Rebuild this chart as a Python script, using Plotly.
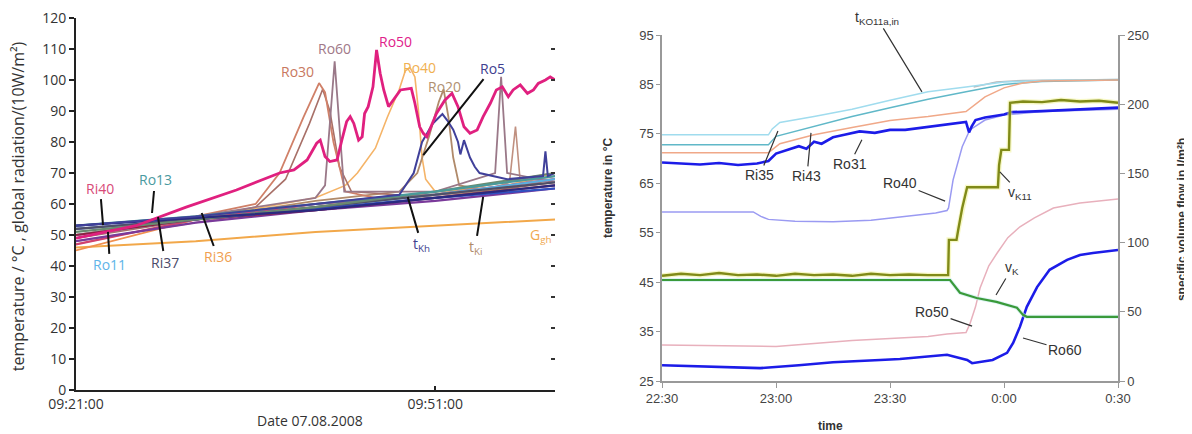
import plotly.graph_objects as go

# ---------------- LEFT PANEL DATA (minutes after 09:21:00) ----------------
left_tickvals = [0, 30]
left_ticktext = ["09:21:00", "09:51:00"]
left_yticks = list(range(0, 121, 10))

bundle_t = [0, 10, 20, 30, 40]
ro13_v = [53, 56, 60, 64, 69]
ro11_v = [50, 55, 59, 63, 68]
navy_v = [53, 55.5, 58, 62, 66]
purple_v = [48, 54, 58, 61, 65]
ri37_v = [52, 55, 59, 63, 67]
darkred_v = [50, 55, 58, 62, 66]
blue_v = [52, 55, 58.5, 62, 65]
ri40_v = [47, 55, 60, 63, 68]
green_v = [51, 55, 59, 64, 70]

ri36_t = [0, 5, 10, 20, 30, 40]
ri36_v = [45, 50, 55, 59, 63, 70]

ggh_t = [0, 10, 20, 30, 40]
ggh_v = [46, 48, 51, 53, 55]

ro30_t = [0, 10, 15, 17, 19, 20.3, 20.8, 21.5, 22.5, 25, 30, 40]
ro30_v = [50, 56, 60, 70, 88, 99, 96, 80, 64, 62, 63, 68]
ro30b_t = [0, 10, 15, 17.5, 19.5, 20.6, 21.2, 22, 23, 30, 40]
ro30b_v = [49, 55, 59, 68, 86, 97, 90, 72, 64, 62, 67]

ro60_t = [0, 10, 20, 20.8, 21.6, 22.4, 30, 35, 35.5, 36, 40]
ro60_v = [49, 56, 62, 66, 106, 64, 64, 70, 101, 70, 67]

ro50_t = [0, 5, 9.2, 13.4, 17.0, 18.2, 19.3, 20.1, 20.4, 20.8, 21.2, 21.8, 22.2, 22.6, 22.9,
          23.2, 23.6, 23.9, 24.1, 24.4, 24.8, 25.1, 25.4, 25.7, 26.1, 26.5, 27.1, 28.0, 28.3,
          28.7, 29.0, 29.3, 30.1, 30.8, 31.4, 31.9, 32.4, 32.9, 33.5, 34.0, 34.6, 35.1, 35.6,
          36.1, 36.5, 37.1, 37.7, 38.2, 38.6, 39.2, 39.6, 40.0]
ro50_v = [49, 53, 59, 64.5, 70, 71, 74.2, 79.6, 80.6, 75.3, 73.7, 74.2, 80.6, 86.6, 88.2,
          86, 80.6, 81.7, 89.2, 91.4, 97.8, 109.7, 102.2, 96.8, 91.4, 93.5, 96.8, 97.3, 92.5,
          84.9, 82.8, 81.7, 89.2, 93.5, 95.7, 91.4, 84.9, 82.8, 83.9, 88.2, 92.5, 96.8, 97.8,
          94.6, 96.8, 98.4, 95.7, 96.8, 98.9, 100, 101, 100]

ro40_t = [0, 10, 20, 22.5, 23.5, 25, 26, 27, 27.5, 27.9, 28.3, 28.6, 28.9, 29.2, 30, 35, 40]
ro40_v = [47, 55, 62, 66, 70, 78, 88, 97, 103, 104, 101, 90, 75, 68, 64, 65, 70]

ro20_t = [0, 10, 20, 27, 28.5, 29.5, 30.3, 30.7, 31.1, 31.5, 32, 35, 40]
ro20_v = [50, 55, 61, 64, 70, 82, 93, 97, 88, 75, 66, 64, 68]

ro5_t = [0, 10, 20, 27, 28.2, 28.9, 29.8, 30.6, 31.0, 31.5, 31.9, 32.1, 32.4, 32.9, 33.3,
         33.7, 36, 39, 39.2, 39.4, 40]
ro5_v = [53, 56, 60, 63, 70, 80, 86, 89, 87, 84, 80, 76, 80.6, 75, 72, 70, 68, 69, 77, 69, 70]

ro10_t = [0, 20, 34, 36.2, 36.7, 37.1, 40]
ro10_v = [48, 60, 64, 67, 85, 67, 69]

# ---------------- RIGHT PANEL DATA (minutes after 22:30) ----------------
right_tickvals = [0, 30, 60, 90, 120]
right_ticktext = ["22:30", "23:00", "23:30", "0:00", "0:30"]
temp_ticks = [25, 35, 45, 55, 65, 75, 85, 95]
flow_ticks = [0, 50, 100, 150, 200, 250]

tko_t = [0, 28, 29, 31, 40, 50, 60, 70, 80, 90, 100, 120]
tko_v = [74.8, 74.8, 76, 77.3, 78.5, 80, 81.8, 83.5, 84.5, 85.5, 85.8, 86]
teal_t = [0, 28, 30, 40, 50, 60, 70, 80, 90, 100, 120]
teal_v = [72.8, 72.8, 74.5, 76.5, 78.5, 80.3, 82, 83.5, 85, 85.6, 85.9]
gray_t = [82, 88, 95, 120]
gray_v = [84.5, 85.5, 85.8, 86]
ri43_t = [0, 28, 31, 40, 50, 60, 70, 80, 85, 90, 95, 100, 120]
ri43_v = [71.2, 71.2, 73, 74.8, 76.3, 77.7, 78.5, 79.5, 82.5, 84.3, 85.3, 85.7, 85.9]

ro31_t = [0, 5, 10, 15, 20, 25, 28, 30, 33, 36, 38, 40, 42, 45, 48, 52, 56, 60, 64, 68, 72,
          76, 80, 80.8, 81.5, 82.5, 85, 90, 92, 100, 110, 120]
ro31_v = [69.2, 69, 68.8, 69.1, 68.7, 69, 69.5, 71, 71.8, 72.5, 72, 73.4, 73, 74.3, 74.8, 75.5,
          75.2, 75.8, 75.8, 76.2, 76.6, 77, 77.4, 75.3, 76.5, 77.8, 78.3, 78.9, 79.4, 79.6, 80,
          80.3]

ro40r_t = [0, 24, 26, 28, 35, 45, 55, 65, 72, 75, 75.4, 76.6, 79, 81, 85, 90, 100, 120]
ro40r_v = [59.2, 59.2, 58.3, 57.7, 57.3, 57.2, 57.5, 58.3, 59, 59.5, 60, 65.7, 72.4, 75.8,
           77.8, 78.8, 79.5, 80]

ro50r_t = [0, 20, 30, 40, 50, 60, 70, 75, 80, 81, 82.5, 83.7, 86, 88.2, 91, 94.2, 98, 103,
           110, 120]
ro50r_v = [32.3, 32, 32, 32.6, 33.2, 33.6, 34, 34.5, 34.8, 36.5, 40, 43.8, 48.3, 50.9, 54,
           56.2, 58, 60, 61, 61.8]

ro60r_t = [0, 10, 25.8, 36, 45, 57.4, 62.6, 75, 80.3, 81.6, 87, 90.8, 92.4, 94.2, 96, 98.7,
           102, 106.6, 110, 113.4, 120]
ro60r_v = [28.2, 28, 27.6, 28.2, 28.8, 29.25, 29.45, 30.3, 29.25, 28.6, 29.25, 30.7, 32.7, 36,
           40, 44, 47.5, 49.5, 50.5, 50.9, 51.5]

vk11_t = [0, 5, 10, 15, 20, 25, 30, 35, 40, 45, 50, 55, 60, 65, 70, 75.3, 75.5, 77.5, 78, 79,
          80.3, 88.4, 88.7, 89.3, 91.3, 91.6, 95, 100, 105, 110, 115, 120]
vk11_v = [76, 77.5, 76.5, 78, 76.5, 77, 76, 77.5, 76.5, 77, 76, 77.5, 76.5, 77, 76.5, 76.5,
          102, 102, 110, 125, 140, 140, 156, 167, 167, 201, 202, 201.5, 203, 202, 202.5, 201]

vk_t = [0, 75.8, 78.4, 82.8, 88, 93.4, 95, 96, 120]
vk_v = [73, 73, 63.8, 60, 57.2, 52.9, 47.8, 46.4, 46.4]

fig = go.Figure()

def add_left(t, v, color, width=1.6, opacity=1.0):
    fig.add_trace(go.Scatter(x=t, y=v, mode="lines", xaxis="x", yaxis="y",
                             line=dict(color=color, width=width), opacity=opacity,
                             showlegend=False, hoverinfo="skip"))

add_left(ggh_t, ggh_v, "#f2a84a", 2)
add_left(ri36_t, ri36_v, "#f09050", 1.8)
add_left(ro10_t, ro10_v, "#c09080", 1.6)
add_left(ro40_t, ro40_v, "#f5b468", 1.6)
add_left(ro20_t, ro20_v, "#b08a6a", 1.8)
add_left(ro30b_t, ro30b_v, "#a87068", 1.6)
add_left(ro30_t, ro30_v, "#d08068", 1.8)
add_left(ro60_t, ro60_v, "#9a7888", 1.8)
for vals, col in [(ri40_v, "#d04070"), (ro11_v, "#5ab0e0"), (purple_v, "#7a3a9a"),
                  (darkred_v, "#902040"), (blue_v, "#3050c0"), (ri37_v, "#505068"),
                  (green_v, "#6a8a70"), (ro13_v, "#4a9a9a"), (navy_v, "#2a2a80")]:
    add_left(bundle_t, vals, col, 2.2)
add_left(ro5_t, ro5_v, "#40409a", 2)
add_left(ro50_t, ro50_v, "#e0207f", 2.8)

# invisible helper trace for right-edge tick marks of left panel
fig.add_trace(go.Scatter(x=[40], y=[0], mode="markers", xaxis="x", yaxis="y4",
                         marker=dict(opacity=0), showlegend=False, hoverinfo="skip"))

def add_right(t, v, color, width=1.5, axis="y2", opacity=1.0):
    fig.add_trace(go.Scatter(x=t, y=v, mode="lines", xaxis="x2", yaxis=axis,
                             line=dict(color=color, width=width), opacity=opacity,
                             showlegend=False, hoverinfo="skip"))

add_right(gray_t, gray_v, "#b8b8b8", 1.5)
add_right(tko_t, tko_v, "#a0dcee", 1.5)
add_right(teal_t, teal_v, "#60b8c8", 1.5)
add_right(ri43_t, ri43_v, "#f0a888", 1.5)
add_right(ro40r_t, ro40r_v, "#9a9af2", 1.5)
add_right(ro50r_t, ro50r_v, "#e8b0bc", 1.5)
add_right(ro31_t, ro31_v, "#1c1ce8", 2.6)
add_right(ro60r_t, ro60r_v, "#1c1ce8", 2.6)
add_right(vk_t, vk_v, "#c8eef0", 4, axis="y3", opacity=0.6)
add_right(vk_t, vk_v, "#3a9a3a", 2.2, axis="y3")
add_right(vk11_t, vk11_v, "#eef080", 5, axis="y3", opacity=0.45)
add_right(vk11_t, vk11_v, "#808a18", 2.4, axis="y3")

left_font = dict(family="Open Sans, Liberation Sans, sans-serif", size=14, color="#333")
right_font = dict(family="Liberation Sans, Arial, sans-serif", size=13, color="#444")

# page body adds an 8px margin, so the figure is sized to fit the 1192x434 window
fig.update_layout(
    width=1184, height=426,
    margin=dict(l=0, r=0, t=0, b=0),
    paper_bgcolor="white", plot_bgcolor="white",
    showlegend=False,
    xaxis=dict(domain=[0.0574, 0.4620], range=[0, 40], tickvals=left_tickvals,
               ticktext=left_ticktext, showgrid=False, zeroline=False, showline=True,
               linecolor="#222", linewidth=2, ticks="inside", ticklen=4, tickwidth=2,
               tickcolor="#222", tickfont=left_font, anchor="y", automargin=False,
               ticklabeloverflow="allow"),
    yaxis=dict(domain=[0.1033, 0.9765], range=[0, 120], tickvals=left_yticks,
               showgrid=False, zeroline=False, showline=True, linecolor="#222", linewidth=2,
               ticks="outside", ticklen=5, tickwidth=2, tickcolor="#222", tickfont=left_font,
               anchor="x", automargin=False, ticklabeloverflow="allow"),
    yaxis4=dict(domain=[0.1033, 0.9765], range=[0, 120], tickvals=left_yticks,
                overlaying="y", side="right", anchor="x", showgrid=False, zeroline=False,
                showline=False, ticks="inside", ticklen=4, tickwidth=2, tickcolor="#333",
                showticklabels=False, automargin=False),
    xaxis2=dict(domain=[0.5524, 0.9375], range=[0, 120], tickvals=right_tickvals,
                ticktext=right_ticktext, showgrid=False, zeroline=False, showline=True,
                linecolor="#999", linewidth=1.5, ticks="outside", ticklen=5, tickcolor="#999",
                tickfont=right_font, anchor="y2", automargin=False,
                ticklabeloverflow="allow"),
    yaxis2=dict(domain=[0.1244, 0.9366], range=[25, 95], tickvals=temp_ticks,
                showgrid=False, zeroline=False, showline=True, linecolor="#999",
                linewidth=1.5, ticks="outside", ticklen=4, tickcolor="#999",
                tickfont=right_font, anchor="x2", automargin=False,
                ticklabeloverflow="allow"),
    yaxis3=dict(domain=[0.1244, 0.9366], range=[0, 250], tickvals=flow_ticks,
                overlaying="y2", side="right", showgrid=False, zeroline=False, showline=True,
                linecolor="#999", linewidth=1.5, ticks="outside", ticklen=5, tickcolor="#999",
                tickfont=right_font, anchor="x2", automargin=False,
                ticklabeloverflow="allow"),
)

annots = []
def lab(text, x, y, color, ax=None, ay=None, xref="x", yref="y", size=14,
        family="Open Sans, sans-serif", lc="#111", lw=2):
    a = dict(text=text, x=x, y=y, xref=xref, yref=yref,
             font=dict(family=family, size=size, color=color))
    if ax is None:
        a.update(showarrow=False)
    else:
        a.update(showarrow=True, arrowhead=0, ax=ax, ay=ay, arrowcolor=lc, arrowwidth=lw,
                 standoff=0, startstandoff=0)
    annots.append(a)

# Left-panel labels
lab("Ri40", 2.26, 53.2, "#d84a78", -3, -37)
lab("Ro11", 2.67, 51, "#60b4e8", 2, 33)
lab("Ro13", 6.35, 57.1, "#4a9aa0", 3, -33)
lab("Ri37", 6.85, 55.8, "#4a4a68", 7, 45)
lab("Ri36", 10.5, 57.1, "#f0a050", 16, 44)
lab("Ro30", 18.5, 102.6, "#c87860")
lab("Ro60", 21.6, 110.3, "#a07888")
lab("Ro50", 26.7, 112.3, "#e0208a")
lab("Ro40", 28.7, 103.9, "#f0b050")
lab("Ro20", 30.8, 98, "#b09070")
lab("Ro5", 29, 75.8, "#404090", 69, -87)
lab("t<sub>Kh</sub>", 27.7, 62.3, "#404090", 14, 48)
lab("t<sub>Ki</sub>", 34, 62.3, "#b08a6a", -8, 51)
lab("G<sub>gh</sub>", 38.8, 50, "#f0a850")

# Right-panel labels
rf = "Liberation Sans, Arial, sans-serif"
def rlab(text, x, y, ax=None, ay=None):
    lab(text, x, y, "#333", ax, ay, xref="x2", yref="y2", size=14, family=rf,
        lc="#333", lw=1.2)

rlab("t<sub>KO11a,in</sub>", 68.4, 83.5, -45, -74)
rlab("Ri35", 30.5, 75.6, -18, 44)
rlab("Ri43", 39.2, 75.2, -4, 43)
rlab("Ro31", 52.6, 73.8, -12, 24)
rlab("Ro40", 74.5, 61.4, -45, -18)
rlab("v<sub>K11</sub>", 88.9, 67.3, 20, 21)
rlab("v<sub>K</sub>", 87.9, 42.4, 16, -27)
rlab("Ro50", 81.6, 36.1, -40, -14)
rlab("Ro60", 95, 33.7, 42, 12)

# Axis titles
annots.append(dict(text="temperature / °C , global radiation/(10W/m²)", x=0.0085, y=0.535,
                   xref="paper", yref="paper", xanchor="center", yanchor="middle",
                   showarrow=False, textangle=-90,
                   font=dict(family="Open Sans, sans-serif", size=16, color="#333")))
annots.append(dict(text="Date 07.08.2008", x=0.2551, y=0.031, xref="paper", yref="paper",
                   xanchor="center", yanchor="middle", showarrow=False,
                   font=dict(family="Open Sans, sans-serif", size=14, color="#333")))
annots.append(dict(text="<b>temperature in °C</b>", x=0.5068, y=0.5775, xref="paper",
                   yref="paper", xanchor="center", yanchor="middle", showarrow=False,
                   textangle=-90, font=dict(family=rf, size=12, color="#333")))
annots.append(dict(text="<b>specific volume flow in l/m²h</b>", x=0.9916, y=0.5023,
                   xref="paper", yref="paper", xanchor="center", yanchor="middle",
                   showarrow=False, textangle=-90, font=dict(family=rf, size=12, color="#333")))
annots.append(dict(text="<b>time</b>", x=0.6943, y=0.0188, xref="paper", yref="paper",
                   xanchor="center", yanchor="middle", showarrow=False,
                   font=dict(family=rf, size=12, color="#333")))

fig.update_layout(annotations=annots)
fig.write_html("out.html")
